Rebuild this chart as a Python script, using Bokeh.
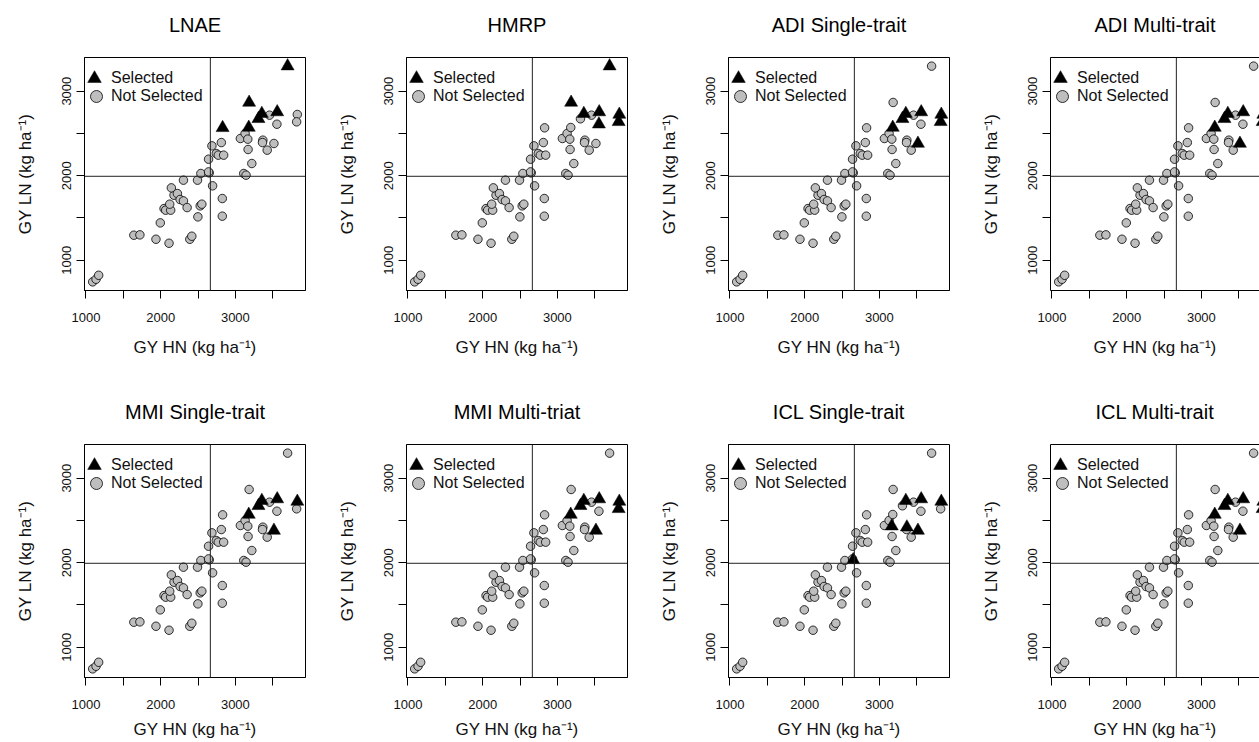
from bokeh.plotting import figure
from bokeh.layouts import row, column
from bokeh.models import Span, FixedTicker, Legend, LegendItem, LinearAxis, Range1d
from bokeh.embed import file_html
from bokeh.resources import INLINE

# ---------------- data ----------------
genotype = [f"G{i + 1}" for i in range(59)]
gy_hn = [1090, 1135, 1170, 1641, 1722, 1937, 2112, 2390, 2417, 1995,
         2498, 2825, 2045, 2067, 2134, 2121, 2179, 2143, 2224, 2260,
         2305, 2354, 2529, 2551, 2305, 2493, 2538, 2650, 2641, 2695,
         2825, 2641, 2686, 2744, 2771, 2812, 2843, 3112, 3143, 3220,
         3067, 3130, 3166, 3170, 3368, 3363, 3426, 3516, 3457, 3556,
         3829, 3820, 3699, 3184, 3354, 3309, 3560, 2829, 3179]
gy_ln = [744, 775, 822, 1296, 1300, 1248, 1201, 1248, 1284, 1442,
         1513, 1521, 1611, 1592, 1592, 1663, 1769, 1856, 1789, 1718,
         1702, 1623, 1643, 1663, 1947, 1947, 2026, 2033, 2045, 1880,
         1730, 2195, 2353, 2262, 2243, 2392, 2243, 2026, 2006, 2144,
         2440, 2499, 2432, 2310, 2420, 2392, 2302, 2381, 2716, 2609,
         2724, 2637, 3296, 2866, 2734, 2673, 2753, 2566, 2570]

panel_titles = ["LNAE", "HMRP", "ADI Single-trait", "ADI Multi-trait",
                "MMI Single-trait", "MMI Multi-triat", "ICL Single-trait", "ICL Multi-trait"]

# indices of selected genotypes per panel
sel_lnae = [52, 53, 54, 55, 56, 57, 58]
sel_hmrp = [52, 53, 54, 56, 49, 50, 51]
sel_adi_single = [54, 55, 56, 58, 47, 50, 51]
sel_adi_multi = [54, 55, 56, 58, 47, 50, 51]
sel_mmi_single = [54, 55, 56, 58, 47, 50]
sel_mmi_multi = [54, 55, 56, 58, 47, 50, 51]
sel_icl_single = [54, 56, 50, 42, 44, 47, 27]
sel_icl_multi = [54, 55, 56, 58, 47, 50, 51]
selections = [sel_lnae, sel_hmrp, sel_adi_single, sel_adi_multi,
              sel_mmi_single, sel_mmi_multi, sel_icl_single, sel_icl_multi]

hn_mean = 2665   # vertical reference line (GY HN)
ln_mean = 1993   # horizontal reference line (GY LN)

x_ticks = [1000, 1500, 2000, 2500, 3000, 3500]
y_ticks = [1000, 1500, 2000, 2500, 3000]
labelled_ticks = [1000, 2000, 3000]

x_label = "GY HN (kg ha\u207b\u00b9)"
y_label = "GY LN (kg ha\u207b\u00b9)"
legend_labels = ["Selected", "Not Selected"]

# ---------------- styling ----------------
FONT = "Liberation Sans"
FW, FH = 221, 233
COLW = 322
LEFT, TOP = 84, 57
LAST_FW = 1259 - 3 * COLW - LEFT

x_min, x_max = min(gy_hn), max(gy_hn)
y_min, y_max = min(gy_ln), max(gy_ln)
x_lo, x_hi = x_min - 0.04 * (x_max - x_min), x_max + 0.04 * (x_max - x_min)
y_lo, y_hi = y_min - 0.04 * (y_max - y_min), y_max + 0.04 * (y_max - y_min)


def make_panel(k):
    r, c = divmod(k, 4)
    last = c == 3
    fw = LAST_FW if last else FW
    x_end = x_lo + (x_hi - x_lo) * fw / FW
    p = figure(frame_width=fw, frame_height=FH,
               x_range=Range1d(x_lo, x_end), y_range=Range1d(y_lo, y_hi),
               output_backend="svg", toolbar_location=None,
               min_border_left=LEFT, min_border_right=0 if last else COLW - LEFT - FW,
               min_border_top=TOP, min_border_bottom=97 if r == 0 else 63)
    p.grid.visible = False
    p.background_fill_color = "white"
    p.border_fill_color = "white"
    p.outline_line_color = None if last else "black"
    p.outline_line_width = 1
    p.outline_line_alpha = 1

    sel = set(selections[k])
    xs_sel = [gy_hn[i] for i in range(len(gy_hn)) if i in sel]
    ys_sel = [gy_ln[i] for i in range(len(gy_ln)) if i in sel]
    xs_not = [gy_hn[i] for i in range(len(gy_hn)) if i not in sel]
    ys_not = [gy_ln[i] for i in range(len(gy_ln)) if i not in sel]

    p.add_layout(Span(location=hn_mean, dimension="height", line_color="#222222", line_width=1))
    p.add_layout(Span(location=ln_mean, dimension="width", line_color="#222222", line_width=1))

    r_not = p.scatter(xs_not, ys_not, marker="circle", size=8.5, fill_color="#BEBEBE",
                      line_color="black", line_width=0.8)
    r_sel = p.scatter(xs_sel, ys_sel, marker="triangle", size=13, fill_color="black",
                      line_color="black", line_width=0.5)

    xa = p.xaxis[0]
    xa.ticker = FixedTicker(ticks=x_ticks, minor_ticks=[])
    xa.major_label_overrides = {t: (str(t) if t in labelled_ticks else "") for t in x_ticks}
    xa.axis_label = x_label
    xa.major_tick_out = 8
    xa.major_tick_in = 0
    xa.major_label_standoff = 14
    xa.axis_label_standoff = 13 if r == 0 else 8
    xa.major_label_text_font = FONT
    xa.major_label_text_font_size = "13px"
    xa.major_label_text_color = "#111111"
    xa.axis_label_text_font = FONT
    xa.axis_label_text_font_size = "17px"
    xa.axis_label_text_font_style = "normal"
    xa.axis_label_text_color = "#111111"
    xa.axis_line_color = "black"
    xa.major_tick_line_color = "black"

    ya = p.yaxis[0]
    ya.ticker = FixedTicker(ticks=y_ticks, minor_ticks=[])
    ya.major_label_overrides = {t: (str(t) if t in labelled_ticks else "") for t in y_ticks}
    ya.major_label_orientation = "vertical"
    ya.axis_label = y_label
    ya.major_tick_out = 8
    ya.major_tick_in = 0
    ya.major_label_standoff = 5
    ya.axis_label_standoff = 25
    ya.major_label_text_font = FONT
    ya.major_label_text_font_size = "13px"
    ya.major_label_text_color = "#111111"
    ya.axis_label_text_font = FONT
    ya.axis_label_text_font_size = "17px"
    ya.axis_label_text_font_style = "normal"
    ya.axis_label_text_color = "#111111"
    ya.axis_line_color = "black"
    ya.major_tick_line_color = "black"

    # panel title, carried by an unticked axis above the frame
    top_ax = LinearAxis(ticker=FixedTicker(ticks=[]), major_tick_out=0, major_tick_in=0,
                        major_label_standoff=0, major_label_text_font_size="0px",
                        axis_line_color="black" if last else None,
                        axis_label=panel_titles[k], axis_label_standoff=22,
                        axis_label_text_font=FONT, axis_label_text_font_size="20px",
                        axis_label_text_font_style="normal", axis_label_text_color="black")
    p.add_layout(top_ax, "above")

    common = dict(padding=0, margin=0, label_standoff=0, label_height=16,
                  border_line_color=None, background_fill_alpha=0,
                  label_text_font=FONT, label_text_font_size="16px",
                  label_text_color="#111111")
    leg_sel = Legend(items=[LegendItem(label=legend_labels[0], renderers=[r_sel])],
                     location=(-7, FH - 38), glyph_width=34, glyph_height=34, **common)
    leg_not = Legend(items=[LegendItem(label=legend_labels[1], renderers=[r_not])],
                     location=(-3, FH - 54), glyph_width=30, glyph_height=30, **common)
    p.add_layout(leg_sel)
    p.add_layout(leg_not)
    return p


figs = [make_panel(k) for k in range(8)]
layout = column(row(*figs[:4]), row(*figs[4:]))

open("out.html", "w").write(file_html(layout, INLINE))
